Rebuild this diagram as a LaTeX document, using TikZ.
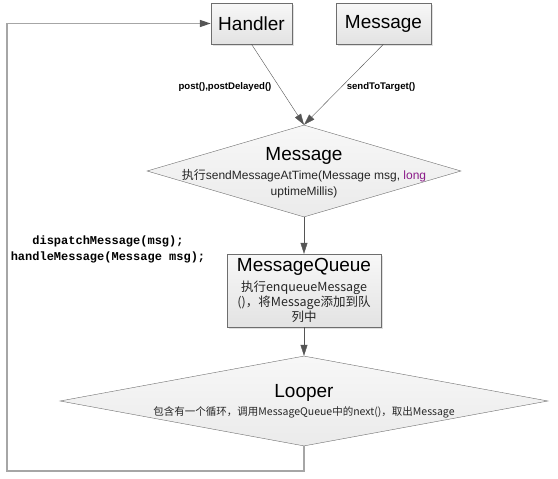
\documentclass[tikz,border=0pt]{standalone}
\usepackage{fontspec}
\setmainfont{Liberation Sans}
\setmonofont{Liberation Mono}
\newfontfamily\cjk{Noto Sans CJK SC}
\usepackage{tikz}
\usetikzlibrary{shapes.geometric,arrows.meta,shadows}
\definecolor{edge}{HTML}{555555}
\definecolor{rim}{HTML}{6E6E6E}
\definecolor{loopline}{HTML}{A6A6A6}
\definecolor{paper}{HTML}{F2F2F2}
\definecolor{kw}{HTML}{8B1A89}

\tikzset{
  box/.style={draw=rim, top color=white!97!black, bottom color=white!89!black,
    inner sep=0pt, drop shadow={shadow xshift=1.5pt, shadow yshift=-1.5pt, fill=black!30, opacity=.4}},
  rhomb/.style={diamond, draw=rim, top color=white!97!black, bottom color=white!92!black, inner sep=0pt},
  head/.style={font=\fontsize{19}{22}\selectfont},
  body/.style={font=\fontsize{12}{16}\selectfont, text=black!85},
  tag/.style={font=\bfseries\fontsize{9.6}{10}\selectfont},
  code/.style={font=\ttfamily\bfseries\fontsize{12}{16}\selectfont},
  flow/.style={draw=edge, -{Triangle[length=11pt,width=7pt]}},
}

\begin{document}
\begin{tikzpicture}[x=1pt,y=-1pt]
  \useasboundingbox (0,0) rectangle (558,479);
  \path
  (251.5,23.5) node[box, minimum width=81pt, minimum height=41pt, head](handler) {Handler}
  (383.5,23.5) node[box, minimum width=95pt, minimum height=41pt, head](message) {Message}
  (304,171) node[rhomb, minimum width=314pt, minimum height=92pt](send) {}
  (304,290.5) node[box, minimum width=154pt, minimum height=73pt](queue) {}
  (304,401) node[rhomb, minimum width=488pt, minimum height=90pt](looper) {}
  (7,471) coordinate(back)
  ;

  % texts
  \path
  (304,156) node[head](sendhead) {Message}
  (304,184) node[body, align=center](sendbody) {{\cjk 执行}sendMessageAtTime(Message msg, \textcolor{kw}{long}\\uptimeMillis)}
  (304,267) node[head](queuehead) {MessageQueue}
  (304,302) node[body, font=\cjk\fontsize{12.5}{15}\selectfont, align=center](queuebody) {执行enqueueMessage\\()，将Message添加到队\\列中}
  (304,393) node[head](looperhead) {Looper}
  (304,412) node[font=\cjk\fontsize{10.5}{11}\selectfont, text=black!85](looperbody) {包含有一个循环，调用MessageQueue中的next()，取出Message}
  (225,87) node[tag](posttag) {post(),postDelayed()}
  (381,87) node[tag](sendtag) {sendToTarget()}
  (108,249) node[code, align=center](dispatch) {dispatchMessage(msg);\\handleMessage(Message msg);}
  ;

  \draw[flow] (handler.south) -- (send.north);
  \draw[flow] (message.south) -- (send.north);
  \draw[flow] (send.south) -- (queue.north);
  \draw[flow] (queue.south) -- (looper.north);
  \draw[loopline, line width=1.3pt, -{Triangle[length=11pt,width=7pt,color=edge]}]
    (looper.south) |- (back) |- (handler.west);
\end{tikzpicture}
\end{document}
